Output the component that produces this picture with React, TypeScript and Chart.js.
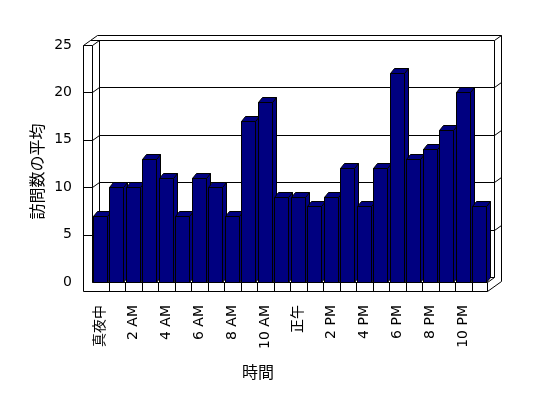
import React, { useEffect, useRef } from "react";
import { Chart, registerables } from "chart.js";

Chart.register(...registerables);

const categories = [
  "真夜中", "1 AM", "2 AM", "3 AM", "4 AM", "5 AM", "6 AM", "7 AM", "8 AM", "9 AM", "10 AM", "11 AM",
  "正午", "1 PM", "2 PM", "3 PM", "4 PM", "5 PM", "6 PM", "7 PM", "8 PM", "9 PM", "10 PM", "11 PM",
];
const visits = [7, 10, 10, 13, 11, 7, 11, 10, 7, 17, 19, 9, 9, 8, 9, 12, 8, 12, 22, 13, 14, 16, 20, 8];
const yMin = 0;
const yMax = 25;
const yStep = 5;
const xTitle = "時間";
const yTitle = "訪問数の平均";

const NAVY = "#000080";
const WALL_DX = 7;
const WALL_DY = -5;
const BAR_DX = 4;
const BAR_DY = -5;
const FONT = '"DejaVu Sans", "Noto Sans CJK JP", sans-serif';
const CJK = '"Noto Sans CJK JP", sans-serif';

const threeD = {
  id: "threeD",
  beforeDatasetsDraw(chart: any) {
    const { ctx, chartArea, scales } = chart;
    const xs = scales.x;
    const ys = scales.y;
    const xb = Math.round(chartArea.left) + 0.5;
    const xa = xb - 9;
    const xr = Math.round(chartArea.right) - 0.5;
    const yTop = Math.round(ys.getPixelForValue(yMax)) + 0.5;
    const yB = Math.round(ys.getPixelForValue(yMin)) + 0.5;
    const yF = yB + 9;
    const dx = WALL_DX;
    const dy = WALL_DY;
    ctx.save();
    ctx.fillStyle = "#fff";
    ctx.strokeStyle = "#000";
    ctx.lineWidth = 1;
    const seg = (x1: number, y1: number, x2: number, y2: number) => {
      ctx.beginPath();
      ctx.moveTo(x1, y1);
      ctx.lineTo(x2, y2);
      ctx.stroke();
    };
    // left wall
    seg(xa, yTop, xa, yF);
    seg(xb, yTop, xb, yB);
    seg(xb + dx, yTop + dy, xb + dx, yB + dy);
    // right edges
    seg(xr + dx, yTop + dy, xr + dx, yB + dy);
    seg(xr + 2 * dx, yTop + 2 * dy, xr + 2 * dx, yF + 2 * dy);
    // top edges
    seg(xa, yTop, xa + dx, yTop + dy);
    seg(xa + dx, yTop + dy, xa + 2 * dx, yTop + 2 * dy);
    seg(xa + dx, yTop + dy, xr + dx, yTop + dy);
    seg(xa + 2 * dx, yTop + 2 * dy, xr + 2 * dx, yTop + 2 * dy);
    // gridlines
    for (let v = yStep; v <= yMax; v += yStep) {
      const g = Math.round(ys.getPixelForValue(v)) + 0.5;
      seg(xa, g, xb, g);
      seg(xb, g, xb + dx, g + dy);
      if (v < yMax) seg(xb + dx, g + dy, xr + dx, g + dy);
      seg(xr + dx, g + dy, xr + 2 * dx, g + 2 * dy);
    }
    // floor
    seg(xb + dx, yB + dy, xr + dx, yB + dy);
    seg(xb, yB, xb + dx, yB + dy);
    seg(xa, yF, xr, yF);
    seg(xb, yB, xr, yB);
    seg(xr, yB, xr, yF);
    seg(xr, yB, xr + dx, yB + dy);
    seg(xr, yF, xr + 2 * dx, yF + 2 * dy);
    for (let k = 1; k < categories.length; k++) {
      const bx = Math.round((xs.getPixelForValue(k - 1) + xs.getPixelForValue(k)) / 2) + 0.5;
      seg(bx, yB, bx, yF);
    }
    ctx.restore();
  },
  afterDatasetsDraw(chart: any) {
    const { ctx } = chart;
    const meta = chart.getDatasetMeta(0);
    ctx.save();
    ctx.strokeStyle = "#000";
    ctx.lineWidth = 1;
    ctx.fillStyle = NAVY;
    const poly = (pts: number[][]) => {
      ctx.beginPath();
      ctx.moveTo(pts[0][0], pts[0][1]);
      for (let i = 1; i < pts.length; i++) ctx.lineTo(pts[i][0], pts[i][1]);
      ctx.closePath();
      ctx.fill();
      ctx.stroke();
    };
    meta.data.forEach((el: any) => {
      const { x, y, base, width } = el.getProps(["x", "y", "base", "width"], true);
      const l = Math.floor(x - width / 2) + 0.5;
      const r = Math.ceil(x + width / 2) - 0.5;
      const t = Math.round(y) + 0.5;
      const b = Math.round(base) + 0.5;
      poly([[l, t], [r, t], [r, b], [l, b]]);
      poly([[r, t], [r + BAR_DX, t + BAR_DY], [r + BAR_DX, b + BAR_DY], [r, b]]);
      poly([[l, t], [r, t], [r + BAR_DX, t + BAR_DY], [l + BAR_DX, t + BAR_DY]]);
    });
    ctx.restore();
  },
  afterDraw(chart: any) {
    const { ctx, chartArea } = chart;
    ctx.save();
    ctx.fillStyle = "#000";
    ctx.font = `16px ${CJK}`;
    ctx.textAlign = "center";
    ctx.textBaseline = "middle";
    ctx.fillText(xTitle, (chartArea.left + chartArea.right) / 2 - 32, chartArea.bottom + 90);
    ctx.translate(chartArea.left - 55.5, (chartArea.top + chartArea.bottom) / 2 + 8);
    ctx.rotate(-Math.PI / 2);
    ctx.fillText(yTitle, 0, 0);
    ctx.restore();
  },
};

export default function App() {
  const canvasRef = useRef<HTMLCanvasElement | null>(null);
  useEffect(() => {
    const canvas = canvasRef.current;
    if (!canvas) return;
    const chart = new Chart(canvas, {
      type: "bar",
      data: {
        labels: categories,
        datasets: [
          {
            data: visits,
            backgroundColor: NAVY,
            borderWidth: 0,
            barPercentage: 0.82,
            categoryPercentage: 1,
          },
        ],
      },
      options: {
        responsive: false,
        animation: false,
        devicePixelRatio: 1,
        layout: { padding: { left: 0, right: 60, top: 45, bottom: 0 } },
        plugins: { legend: { display: false }, tooltip: { enabled: false } },
        scales: {
          x: {
            type: "category",
            offset: true,
            grid: { display: false, drawTicks: false },
            border: { display: false },
            ticks: {
              autoSkip: false,
              minRotation: 90,
              maxRotation: 90,
              padding: 23,
              color: "#000",
              font: { family: FONT, size: 14 },
              callback: (_v: any, i: number) => (i % 2 === 0 ? categories[i] : ""),
            },
            afterFit: (s: any) => {
              s.height = 116;
            },
          },
          y: {
            min: yMin,
            max: yMax,
            grid: { display: false, drawTicks: false },
            border: { display: false },
            ticks: { stepSize: yStep, padding: 20, color: "#000", font: { family: FONT, size: 14 } },
            afterFit: (s: any) => {
              s.width = 92;
            },
          },
        },
      },
      plugins: [threeD],
    });
    return () => chart.destroy();
  }, []);
  return (
    <div style={{ position: "fixed", left: 0, top: 0, width: 548, height: 398, background: "#fff" }}>
      <canvas ref={canvasRef} width={548} height={398} />
    </div>
  );
}
